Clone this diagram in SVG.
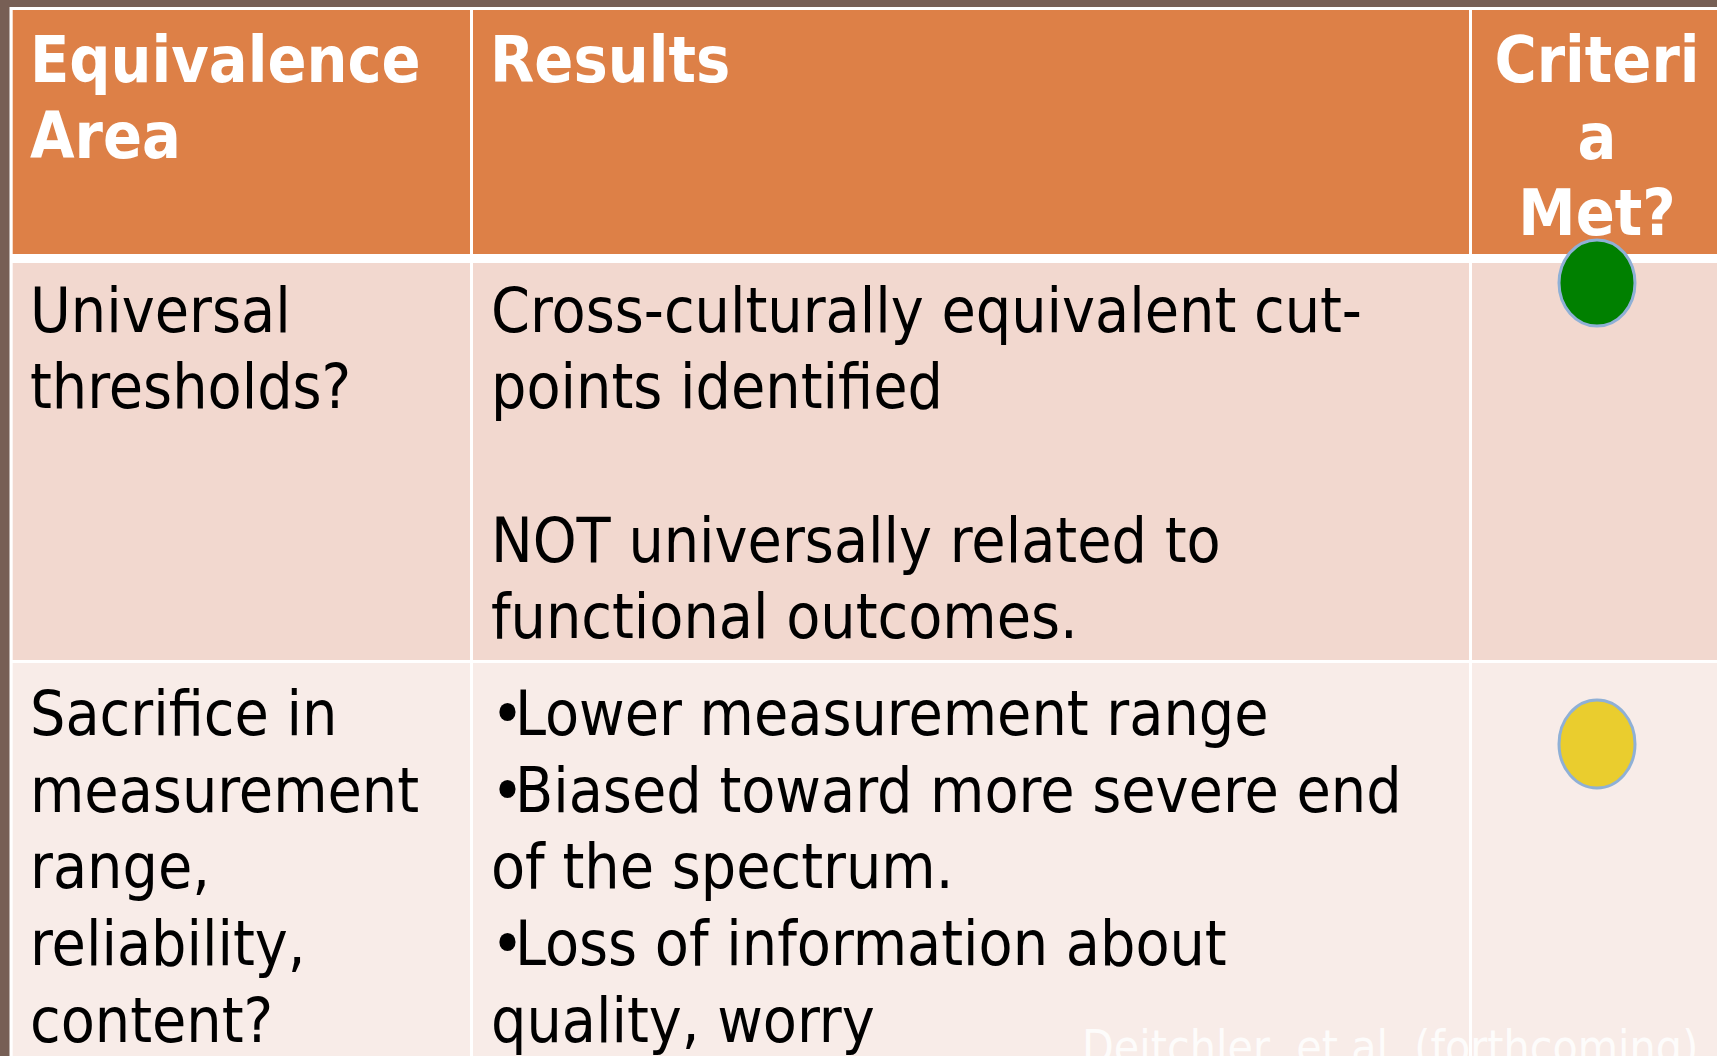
<svg xmlns="http://www.w3.org/2000/svg" width="1717" height="1056" viewBox="0 0 1717 1056">
  <style>
    .hdr { fill: #DD8047; }
    .r1 { fill: #F2D8CF; }
    .r2 { fill: #F8ECE8; }
    .ht { font-family: 'DejaVu Sans Condensed', 'DejaVu Sans', sans-serif; font-stretch: condensed; font-weight: bold; font-size: 64px; fill: #FFFFFF; }
    .bt { font-family: 'DejaVu Sans Condensed', 'DejaVu Sans', sans-serif; font-stretch: condensed; font-size: 62px; fill: #000000; }
    .cite { font-family: 'DejaVu Sans Condensed', 'DejaVu Sans', sans-serif; font-stretch: condensed; font-size: 46px; fill: #FFFFFF; fill-opacity: 0.85; }
    .dot { stroke: #8FB0D6; stroke-width: 3; }
  </style>
  <rect x="0" y="0" width="1717" height="1056" fill="#775F55"/>
  <rect x="9.5" y="7" width="1708" height="1049" fill="#FFFFFF"/>

  <g id="header">
    <g id="h-area">
      <rect class="hdr" x="12.7" y="10" width="457.3" height="244"/>
      <text class="ht" x="30" y="82">Equivalence</text>
      <text class="ht" x="30" y="158">Area</text>
    </g>
    <g id="h-results">
      <rect class="hdr" x="473" y="10" width="996" height="244"/>
      <text class="ht" x="490" y="82">Results</text>
    </g>
    <g id="h-criteria">
      <rect class="hdr" x="1472" y="10" width="250" height="244"/>
      <text class="ht" x="1597" y="82" text-anchor="middle">Criteri</text>
      <text class="ht" x="1597" y="159" text-anchor="middle">a</text>
      <text class="ht" x="1597" y="235" text-anchor="middle">Met?</text>
    </g>
  </g>

  <g id="row1">
    <g id="r1-area">
      <rect class="r1" x="12.7" y="263" width="457.3" height="397"/>
      <text class="bt" x="30" y="332">Universal</text>
      <text class="bt" x="30" y="408">thresholds?</text>
    </g>
    <g id="r1-results">
      <rect class="r1" x="473" y="263" width="996" height="397"/>
      <text class="bt" x="491" y="332">Cross-culturally equivalent cut-</text>
      <text class="bt" x="491" y="408">points identified</text>
      <text class="bt" x="491" y="562">NOT universally related to</text>
      <text class="bt" x="491" y="638">functional outcomes.</text>
    </g>
    <g id="r1-criteria">
      <rect class="r1" x="1472" y="263" width="250" height="397"/>
    </g>
  </g>

  <g id="row2">
    <g id="r2-area">
      <rect class="r2" x="12.7" y="663" width="457.3" height="400"/>
      <text class="bt" x="30" y="735">Sacrifice in</text>
      <text class="bt" x="30" y="812">measurement</text>
      <text class="bt" x="30" y="888">range,</text>
      <text class="bt" x="30" y="965">reliability,</text>
      <text class="bt" x="30" y="1042">content?</text>
    </g>
    <g id="r2-results">
      <rect class="r2" x="473" y="663" width="996" height="400"/>
      <text class="bt" x="491" y="735">•<tspan dx="-9">Lower measurement range</tspan></text>
      <text class="bt" x="491" y="812">•<tspan dx="-9">Biased toward more severe end</tspan></text>
      <text class="bt" x="491" y="888">of the spectrum.</text>
      <text class="bt" x="491" y="965">•<tspan dx="-9">Loss of information about</tspan></text>
      <text class="bt" x="491" y="1042">quality, worry</text>
    </g>
    <g id="r2-criteria">
      <rect class="r2" x="1472" y="663" width="250" height="400"/>
    </g>
  </g>

  <g id="indicators">
    <ellipse id="green-dot" class="dot" cx="1597" cy="283" rx="38" ry="43" fill="#008000"/>
    <ellipse id="yellow-dot" class="dot" cx="1597" cy="744" rx="38" ry="44" fill="#EACD2E"/>
  </g>

  <g id="connectors"/>

  <text id="citation" class="cite" x="1082" y="1063">Deitchler, et al. (forthcoming)</text>
</svg>
